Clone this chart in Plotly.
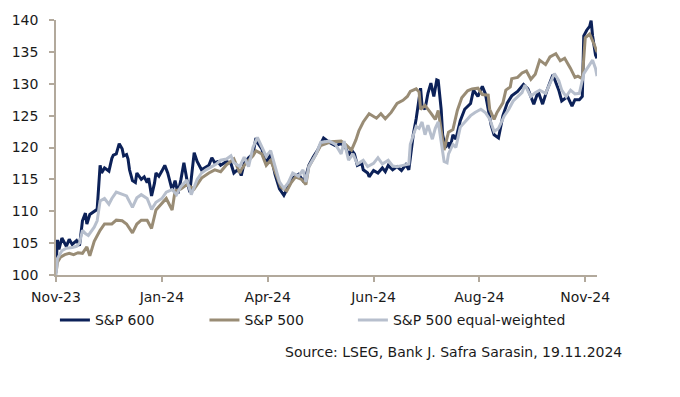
import pandas as pd
import plotly.graph_objects as go

start_date = "2023-11-17"
end_date = "2024-11-19"

# days since start date, index values (rebased to 100)
days_600 = [0, 1, 2, 4, 7, 9, 11, 14, 16, 18, 20, 21, 23, 26, 28, 30, 31, 33, 36, 38, 39, 41, 43, 45, 46, 48, 49, 50, 52, 54, 55, 58, 60, 62, 63, 65, 67, 68, 70, 72, 74, 76, 79, 81, 83, 85, 87, 89, 91, 94, 96, 99, 102, 104, 106, 108, 110, 112, 116, 119, 121, 123, 125, 126, 128, 131, 134, 136, 137, 140, 143, 146, 149, 152, 155, 158, 161, 165, 168, 170, 172, 175, 178, 182, 186, 190, 194, 197, 199, 201, 203, 205, 208, 209, 212, 213, 216, 219, 222, 224, 226, 229, 232, 235, 238, 240, 241, 243, 245, 247, 248, 249, 251, 253, 255, 257, 259, 260, 262, 263, 265, 267, 268, 270, 272, 275, 278, 282, 284, 287, 290, 292, 294, 296, 298, 301, 304, 307, 310, 314, 318, 321, 325, 328, 331, 334, 338, 342, 344, 348, 351, 353, 356, 358, 359, 361, 363, 364, 365, 367, 368]
sp600 = [101.5, 105.5, 104.0, 105.8, 104.5, 105.6, 104.8, 105.4, 104.6, 108.5, 109.7, 108.0, 109.5, 110.0, 110.3, 117.2, 116.0, 116.8, 116.3, 118.3, 118.8, 119.0, 120.6, 119.8, 118.7, 118.9, 118.2, 116.5, 114.8, 114.5, 116.0, 115.0, 115.4, 114.5, 115.2, 112.4, 114.4, 116.0, 115.5, 116.3, 117.2, 116.0, 113.3, 114.8, 112.8, 115.0, 117.6, 115.0, 113.0, 119.2, 117.8, 116.5, 117.0, 117.2, 118.4, 117.6, 117.8, 117.2, 117.8, 117.5, 116.0, 116.4, 116.2, 115.6, 117.5, 118.4, 119.0, 121.5, 120.8, 119.8, 117.5, 119.0, 115.8, 113.5, 112.5, 113.8, 115.2, 115.8, 114.8, 115.5, 117.2, 118.5, 119.6, 121.5, 120.8, 120.3, 120.6, 120.0, 118.8, 119.6, 119.0, 117.2, 117.5, 116.5, 116.0, 115.4, 116.4, 116.0, 116.8, 116.2, 117.2, 116.5, 117.0, 116.4, 117.3, 116.5, 118.5, 122.0, 124.5, 127.5, 129.3, 126.5, 126.0, 128.5, 130.1, 128.0, 130.6, 130.5, 126.0, 122.0, 120.0, 120.8, 119.8, 122.0, 121.3, 124.2, 126.0, 126.9, 129.0, 128.0, 129.6, 128.5, 126.0, 123.5, 122.0, 121.5, 125.0, 127.0, 128.1, 128.8, 129.9, 129.2, 126.8, 128.8, 126.8, 129.0, 131.4, 129.0, 127.3, 128.0, 126.5, 127.5, 127.5, 128.0, 137.5, 138.4, 139.0, 139.9, 137.5, 134.5, 134.0]

days_500 = [0, 1, 3, 6, 9, 12, 15, 18, 21, 23, 26, 30, 33, 38, 41, 45, 48, 52, 55, 58, 62, 65, 68, 72, 75, 79, 81, 85, 89, 94, 99, 104, 108, 112, 116, 121, 125, 126, 129, 134, 136, 140, 143, 146, 150, 153, 157, 160, 163, 167, 170, 172, 177, 180, 187, 194, 197, 201, 204, 206, 209, 213, 218, 221, 224, 228, 232, 236, 239, 241, 245, 247, 248, 251, 255, 258, 260, 263, 264, 266, 267, 270, 273, 276, 280, 283, 287, 290, 294, 295, 298, 300, 304, 306, 309, 310, 314, 317, 320, 323, 326, 329, 333, 336, 340, 343, 346, 350, 353, 355, 358, 360, 363, 366, 368]
sp500 = [100.3, 102.0, 102.8, 103.2, 103.4, 103.2, 103.5, 103.4, 104.4, 103.0, 105.3, 107.0, 108.0, 108.0, 108.6, 108.5, 108.0, 106.6, 108.0, 108.6, 108.6, 107.3, 110.2, 111.2, 112.0, 110.2, 113.2, 113.5, 114.2, 113.5, 115.2, 116.0, 116.5, 116.2, 117.3, 118.2, 116.0, 116.5, 117.5, 118.7, 119.5, 119.0, 117.2, 118.0, 115.6, 113.8, 113.2, 114.5, 115.4, 115.0, 114.2, 117.0, 119.0, 120.3, 120.9, 121.0, 120.5, 119.6, 121.2, 122.6, 124.0, 125.3, 124.6, 125.3, 124.5, 125.5, 126.9, 127.4, 128.0, 128.8, 129.2, 128.7, 126.0, 126.6, 125.4, 124.4, 125.8, 121.6, 119.6, 121.5, 122.4, 122.8, 125.8, 127.8, 128.9, 129.2, 129.3, 128.3, 128.2, 126.0, 124.4, 125.5, 127.0, 129.0, 129.5, 130.8, 131.0, 131.7, 132.0, 130.7, 131.5, 133.7, 133.0, 134.2, 134.7, 133.6, 134.0, 132.4, 131.0, 131.2, 130.8, 137.2, 137.8, 136.2, 135.0]

days_ew = [0, 1, 4, 7, 11, 14, 16, 18, 20, 22, 26, 28, 30, 33, 36, 38, 41, 45, 48, 52, 55, 58, 62, 65, 68, 72, 75, 79, 82, 85, 89, 92, 96, 99, 102, 106, 109, 112, 116, 119, 121, 125, 128, 131, 134, 137, 140, 143, 146, 149, 152, 155, 158, 161, 165, 168, 170, 172, 177, 180, 186, 190, 194, 196, 199, 202, 205, 209, 212, 216, 219, 222, 226, 229, 232, 236, 240, 241, 243, 245, 247, 249, 251, 253, 256, 258, 260, 262, 264, 266, 267, 270, 272, 275, 278, 282, 285, 289, 292, 295, 298, 301, 305, 308, 311, 314, 317, 319, 323, 326, 329, 333, 336, 339, 342, 344, 347, 350, 353, 356, 359, 362, 365, 367, 368]
sp500_ew = [100.0, 102.6, 103.8, 104.2, 104.3, 104.5, 105.0, 107.0, 106.5, 106.2, 107.5, 108.5, 111.6, 112.0, 111.1, 112.0, 113.0, 112.6, 112.4, 110.6, 112.1, 112.6, 112.0, 110.3, 111.4, 112.0, 113.0, 113.4, 112.6, 113.9, 114.9, 112.6, 115.0, 116.0, 116.5, 117.0, 117.4, 118.0, 118.2, 118.7, 117.6, 117.0, 118.5, 117.0, 120.0, 121.6, 120.2, 118.6, 119.5, 117.0, 114.6, 113.6, 114.5, 116.0, 115.5, 116.5, 114.6, 117.0, 119.0, 120.8, 121.0, 120.5, 119.0, 121.0, 118.0, 119.0, 117.4, 118.0, 117.0, 117.5, 118.4, 117.4, 118.0, 117.1, 117.0, 117.2, 117.4, 120.5, 122.0, 123.3, 123.0, 124.0, 122.0, 123.5, 121.3, 123.0, 124.0, 121.0, 117.8, 117.6, 119.0, 120.5, 120.0, 123.2, 124.0, 125.0, 125.5, 126.0, 125.5, 124.5, 122.5, 123.0, 125.0, 126.0, 127.3, 128.0, 128.6, 129.8, 128.0, 128.6, 129.0, 128.5, 130.0, 131.6, 130.5, 129.0, 128.0, 129.0, 128.4, 128.5, 131.6, 132.7, 133.7, 132.4, 131.2]

series_names = ["S&P 600", "S&P 500", "S&P 500 equal-weighted"]
tick_days = [0, 72, 144, 216, 288, 360]
tick_labels = ["Nov-23", "Jan-24", "Apr-24", "Jun-24", "Aug-24", "Nov-24"]
y_ticks = [100, 105, 110, 115, 120, 125, 130, 135, 140]
source_text = "Source: LSEG, Bank J. Safra Sarasin, 19.11.2024"

colors = ["#0c2158", "#998c75", "#b7bfcd"]
FONT = "DejaVu Sans, Liberation Sans, sans-serif"
TEXT_COLOR = "#1a1a1a"
AXIS_COLOR = "#b2a99c"
legend_ids = ["legend", "legend2", "legend3"]
legend_x = [-0.002, 0.2744, 0.5488]

t0 = pd.Timestamp(start_date)
def to_dates(days):
    return [t0 + pd.Timedelta(days=d) for d in days]

fig = go.Figure()
for name, d, v, c, lid in zip(series_names, [days_600, days_500, days_ew],
                              [sp600, sp500, sp500_ew], colors, legend_ids):
    fig.add_trace(go.Scatter(x=to_dates(d), y=v, mode="lines", name=name,
                             legend=lid, line=dict(color=c, width=3)))

legend_common = dict(orientation="h", xanchor="left", y=-0.178, yanchor="middle",
                     font=dict(family=FONT, size=14, color=TEXT_COLOR),
                     bgcolor="rgba(0,0,0,0)", borderwidth=0)
layout_legends = {lid: dict(legend_common, x=lx) for lid, lx in zip(legend_ids, legend_x)}

fig.update_layout(
    width=680, height=397,
    margin=dict(l=54, r=83, t=16, b=122),
    paper_bgcolor="white", plot_bgcolor="white",
    font=dict(family=FONT, size=14, color=TEXT_COLOR),
    showlegend=True,
    annotations=[dict(text=source_text, xref="paper", yref="paper",
                      x=1.0497, y=-0.302, xanchor="right", yanchor="middle",
                      showarrow=False, font=dict(family=FONT, size=14, color=TEXT_COLOR))],
    **layout_legends,
)
fig.update_xaxes(
    type="date",
    range=[t0, pd.Timestamp(end_date)],
    tickvals=to_dates(tick_days), ticktext=tick_labels,
    showline=True, linecolor=AXIS_COLOR, linewidth=1.5,
    ticks="outside", ticklen=5, tickcolor=AXIS_COLOR, tickwidth=1.5,
    showgrid=False, zeroline=False, ticklabelstandoff=3,
    tickfont=dict(family=FONT, size=14, color=TEXT_COLOR),
)
fig.update_yaxes(
    range=[100, 140], tickvals=y_ticks,
    showline=True, linecolor=AXIS_COLOR, linewidth=1.5,
    ticks="outside", ticklen=5, tickcolor=AXIS_COLOR, tickwidth=1.5,
    showgrid=False, zeroline=False, ticklabelstandoff=8,
    tickfont=dict(family=FONT, size=14, color=TEXT_COLOR),
)

fig.write_html("out.html", config={"displayModeBar": False},
               post_script="document.body.style.margin='0px';")
